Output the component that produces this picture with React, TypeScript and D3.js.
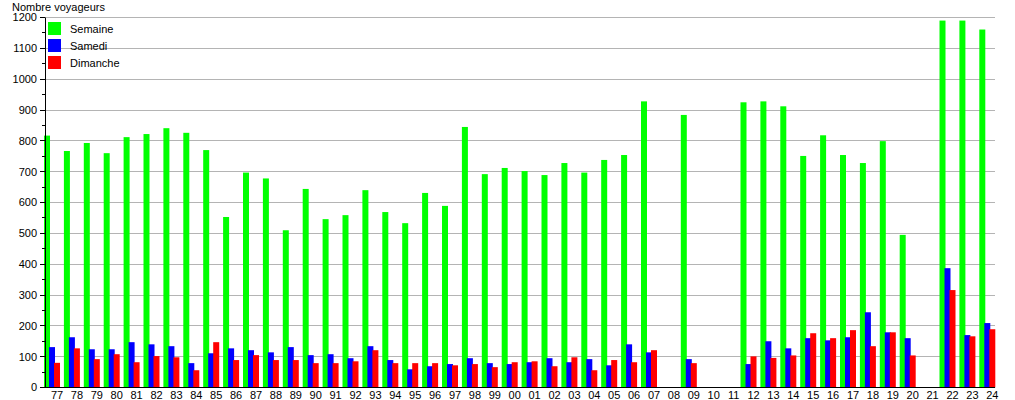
import React from "react";
import * as d3 from "d3";

const categories: string[] = [
  "77","78","79","80","81","82","83","84","85","86","87","88","89","90","91","92","93","94","95","96","97","98","99",
  "00","01","02","03","04","05","06","07","08","09","10","11","12","13","14","15","16","17","18","19","20","21","22","23","24",
];

const semaine: (number | null)[] = [
  817, 767, 793, 760, 812, 822, 841, 826, 770, 553, 697, 678, 510, 644, 546, 559, 640, 569, 533, 631, 589, 845, 692,
  712, 702, 689, 728, 697, 738, 754, 928, null, 884, null, null, 925, 928, 912, 751, 818, 754, 728, 799, 495, null, 1190, 1190, 1161,
];

const samedi: (number | null)[] = [
  131, 163, 124, 124, 147, 140, 134, 79, 111, 127, 121, 114, 131, 105, 108, 95, 134, 89, 59, 69, 76, 95, 79,
  76, 82, 95, 82, 92, 72, 140, 114, null, 92, null, null, 76, 150, 127, 160, 153, 163, 244, 179, 160, null, 387, 170, 209,
];

const dimanche: (number | null)[] = [
  80, 127, 92, 108, 82, 102, 98, 56, 147, 89, 105, 89, 89, 79, 79, 85, 121, 79, 79, 79, 72, 76, 66,
  82, 85, 69, 98, 56, 89, 82, 121, null, 79, null, null, 101, 96, 104, 176, 160, 186, 134, 179, 104, null, 316, 166, 189,
];

const seriesNames = ["Semaine", "Samedi", "Dimanche"];
const seriesColors = ["#00ff00", "#0000ff", "#ff0000"];
const yTicks = d3.range(0, 1201, 100);
const yMinorTicks = d3.range(50, 1200, 100);

export default function App() {
  const W = 1015;
  const H = 400;
  const axisX = 45;
  const plotRight = 995;
  const font = "'Liberation Sans', Arial, Helvetica, sans-serif";

  const x = d3.scaleBand<string>().domain(categories).range([44, 44 + 48 * 19.9]).padding(0);
  const y = d3.scaleLinear().domain([0, 1200]).range([387.5, 17.5]);
  const crisp = (v: number) => Math.round(v - 0.5) + 0.5;

  const allSeries = [semaine, samedi, dimanche];
  const barW = 6;
  const barStep = 5;

  return (
    <svg
      width={W}
      height={H}
      style={{ position: "absolute", left: 0, top: 0, background: "#fff" }}
      fontFamily={font}
    >
      <rect x={0} y={0} width={W} height={H} fill="#fff" />
      {/* grid */}
      {yTicks.filter((t) => t > 0).map((t) => (
        <line key={"g" + t} x1={axisX} x2={plotRight} y1={crisp(y(t))} y2={crisp(y(t))} stroke="#b4b4b4" strokeWidth={1} />
      ))}
      {/* bars */}
      {allSeries.map((s, si) =>
        s.map((v, i) =>
          v == null ? null : (
            <rect
              key={si + "-" + i}
              x={(x(categories[i]) as number) + si * barStep}
              y={y(v)}
              width={barW}
              height={y(0) - y(v)}
              fill={seriesColors[si]}
            />
          )
        )
      )}
      {/* axes */}
      <line x1={axisX + 0.5} x2={axisX + 0.5} y1={crisp(y(1200))} y2={crisp(y(0)) + 0.5} stroke="#000" strokeWidth={1} />
      <line x1={axisX} x2={plotRight} y1={crisp(y(0))} y2={crisp(y(0))} stroke="#000" strokeWidth={1} />
      {yTicks.map((t) => (
        <g key={"t" + t}>
          <line x1={axisX - 5} x2={axisX} y1={crisp(y(t))} y2={crisp(y(t))} stroke="#000" />
          <text x={37} y={y(t)} dy="0.35em" textAnchor="end" fontSize={11} fill="#000">
            {t}
          </text>
        </g>
      ))}
      {yMinorTicks.map((t) => (
        <line key={"m" + t} x1={axisX - 3} x2={axisX} y1={crisp(y(t))} y2={crisp(y(t))} stroke="#000" />
      ))}
      {categories.map((c) => (
        <text key={"x" + c} x={(x(c) as number) + 13} y={399} textAnchor="middle" fontSize={11} fill="#000">
          {c}
        </text>
      ))}
      {/* title */}
      <text x={12} y={11} fontSize={11} fill="#000">
        Nombre voyageurs
      </text>
      {/* legend */}
      {seriesNames.map((n, i) => (
        <g key={"l" + n}>
          <rect x={48} y={22 + i * 17} width={13} height={13} fill={seriesColors[i]} />
          <text x={70} y={33 + i * 17} fontSize={11} fill="#000">
            {n}
          </text>
        </g>
      ))}
    </svg>
  );
}
